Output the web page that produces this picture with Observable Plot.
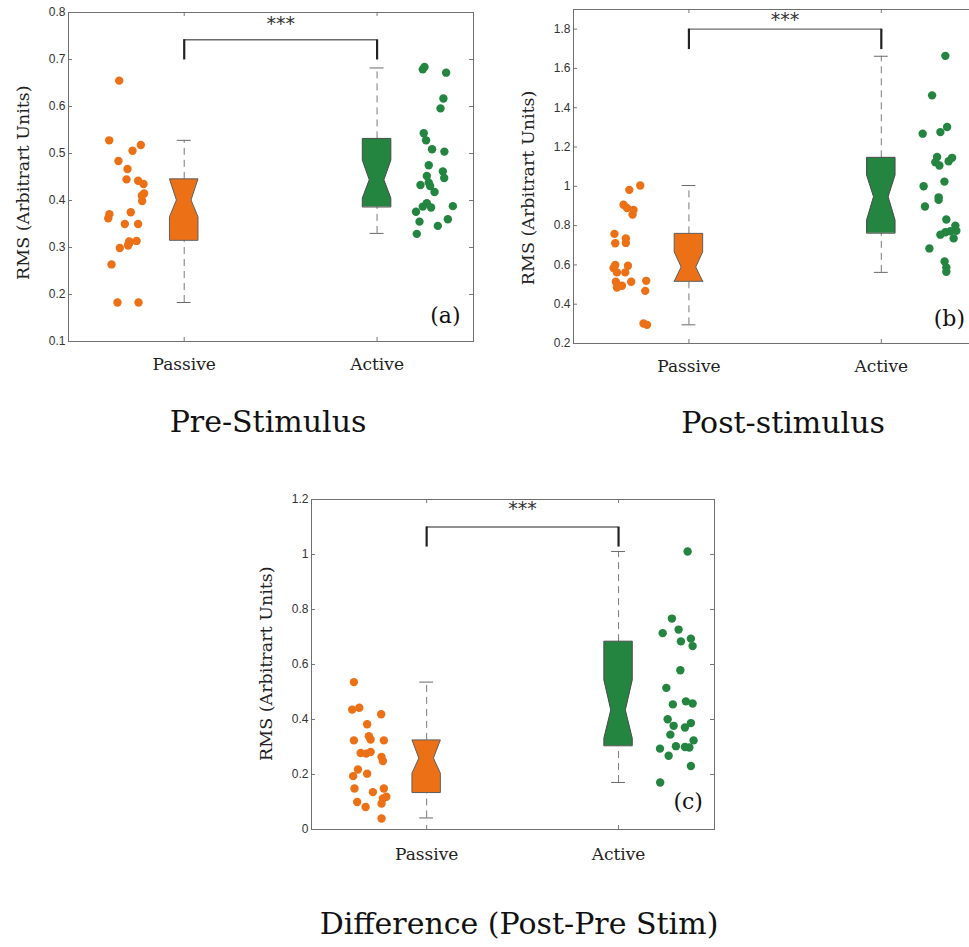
<!DOCTYPE html>
<html><head><meta charset="utf-8">
<script src="https://cdn.jsdelivr.net/npm/d3@7"></script>
<script src="https://cdn.jsdelivr.net/npm/@observablehq/plot@0.6"></script>
<style>
html,body{margin:0;padding:0;background:#fff;overflow:hidden;}
#wrap{position:relative;width:969px;height:947px;overflow:hidden;background:#fff;}
.panel{position:absolute;}
.title{position:absolute;font-family:"DejaVu Serif",serif;font-size:30px;line-height:30px;color:#111;white-space:nowrap;transform:translateX(-50%);}
</style></head><body><div id="wrap"></div>
<script>
const groups = ["Passive", "Active"];
const groupPos = [1, 2];
const xDomain = [0.4, 2.5];
const titles = ["Pre-Stimulus", "Post-stimulus", "Difference (Post-Pre Stim)"];
const panelLetters = ["(a)", "(b)", "(c)"];
const yAxisLabel = "RMS (Arbitrart Units)";

// ---- (a) Pre-Stimulus ----
const preTicks = [0.1, 0.2, 0.3, 0.4, 0.5, 0.6, 0.7, 0.8];
const preTickLabels = ["0.1", "0.2", "0.3", "0.4", "0.5", "0.6", "0.7", "0.8"];
const prePassiveRMS = [0.655,0.528,0.518,0.506,0.484,0.467,0.445,0.442,0.435,0.415,0.410,0.399,0.371,0.362,0.375,0.350,0.350,0.313,0.314,0.304,0.299,0.264,0.183,0.183,0.308,0.311];
const prePassiveJitter = [-0.337,-0.389,-0.225,-0.268,-0.341,-0.294,-0.299,-0.239,-0.211,-0.208,-0.220,-0.218,-0.388,-0.394,-0.277,-0.308,-0.239,-0.285,-0.247,-0.291,-0.334,-0.377,-0.346,-0.237,-0.289,-0.282];
const preActiveRMS = [0.679,0.684,0.672,0.617,0.596,0.543,0.528,0.509,0.504,0.475,0.462,0.448,0.452,0.438,0.433,0.431,0.418,0.394,0.387,0.385,0.388,0.376,0.360,0.355,0.346,0.329];
const preActiveJitter = [0.237,0.246,0.358,0.344,0.329,0.242,0.254,0.285,0.349,0.268,0.341,0.348,0.258,0.268,0.225,0.275,0.298,0.258,0.237,0.280,0.393,0.202,0.367,0.220,0.315,0.206];
// [whiskerLow, q1, notchLow, median, notchHigh, q3, whiskerHigh]
const preBoxPassive = [0.183, 0.315, 0.364, 0.400, 0.445, 0.445, 0.528];
const preBoxActive = [0.330, 0.386, 0.404, 0.443, 0.485, 0.531, 0.682];
const preSig = [0.742, 0.699, 0.775]; // bracket top, leg bottom, stars

// ---- (b) Post-stimulus ----
const postTicks = [0.2, 0.4, 0.6, 0.8, 1.0, 1.2, 1.4, 1.6, 1.8];
const postTickLabels = ["0.2", "0.4", "0.6", "0.8", "1", "1.2", "1.4", "1.6", "1.8"];
const postPassiveRMS = [1.004,0.982,0.906,0.890,0.880,0.856,0.758,0.710,0.735,0.712,0.584,0.600,0.562,0.596,0.562,0.514,0.494,0.494,0.485,0.514,0.519,0.468,0.302,0.295];
const postPassiveJitter = [-0.253,-0.310,-0.340,-0.322,-0.288,-0.293,-0.387,-0.383,-0.328,-0.328,-0.392,-0.383,-0.374,-0.317,-0.331,-0.380,-0.366,-0.348,-0.374,-0.300,-0.222,-0.227,-0.236,-0.218];
const postActiveRMS = [1.664,1.463,1.302,1.276,1.268,1.149,1.123,1.106,1.145,1.128,1.024,1.000,0.944,0.931,0.897,0.831,0.800,0.774,0.771,0.766,0.754,0.735,0.684,0.618,0.587,0.565];
const postActiveJitter = [0.333,0.264,0.342,0.307,0.215,0.290,0.281,0.302,0.368,0.350,0.328,0.220,0.298,0.298,0.227,0.338,0.385,0.390,0.359,0.333,0.307,0.376,0.250,0.329,0.338,0.338];
const postBoxPassive = [0.295, 0.514, 0.514, 0.587, 0.664, 0.758, 1.004];
const postBoxActive = [0.562, 0.761, 0.826, 0.945, 1.055, 1.145, 1.662];
const postSig = [1.800, 1.696, 1.849];

// ---- (c) Difference ----
const diffTicks = [0, 0.2, 0.4, 0.6, 0.8, 1.0, 1.2];
const diffTickLabels = ["0", "0.2", "0.4", "0.6", "0.8", "1", "1.2"];
const diffPassiveRMS = [0.536,0.436,0.443,0.419,0.383,0.339,0.327,0.324,0.324,0.278,0.276,0.282,0.264,0.249,0.218,0.203,0.194,0.149,0.149,0.136,0.119,0.113,0.100,0.094,0.082,0.040];
const diffPassiveJitter = [-0.379,-0.388,-0.351,-0.237,-0.310,-0.301,-0.292,-0.379,-0.223,-0.344,-0.315,-0.292,-0.235,-0.228,-0.358,-0.310,-0.383,-0.376,-0.223,-0.280,-0.210,-0.228,-0.362,-0.235,-0.318,-0.235];
const diffActiveRMS = [1.011,0.767,0.727,0.714,0.694,0.684,0.667,0.579,0.515,0.466,0.458,0.455,0.401,0.387,0.377,0.371,0.345,0.324,0.294,0.303,0.300,0.298,0.268,0.231,0.171];
const diffActiveJitter = [0.360,0.278,0.313,0.230,0.377,0.325,0.386,0.322,0.249,0.351,0.386,0.283,0.256,0.377,0.287,0.346,0.270,0.391,0.216,0.299,0.346,0.369,0.261,0.377,0.217];
const diffBoxPassive = [0.042, 0.134, 0.203, 0.258, 0.324, 0.324, 0.536];
const diffBoxActive = [0.171, 0.304, 0.330, 0.433, 0.542, 0.683, 1.011];
const diffSig = [1.100, 1.027, 1.166];

const passiveColor = "#EC7116";
const activeColor = "#23853F";
const serif = "DejaVu Serif, serif";
const sans = "Liberation Sans, Arial, sans-serif";

function makePanel(c) {
  const fw = c.width - c.mL - c.mR, fh = c.height - c.mT - c.mB;
  const tx = 4 * (xDomain[1] - xDomain[0]) / fw;
  const ty = 4 * (c.yDomain[1] - c.yDomain[0]) / fh;
  const bw = 0.074, nw = 0.038, cw = 0.036;
  const pts = (rms, jit, pos) => rms.map((v, i) => ({x: pos + jit[i], y: v}));
  const boxRows = (s, p) => [
    {y: s[1], x1: p - bw, x2: p + bw},
    {y: s[2], x1: p - bw, x2: p + bw},
    {y: s[3], x1: p - nw, x2: p + nw},
    {y: s[4], x1: p - bw, x2: p + bw},
    {y: s[5], x1: p - bw, x2: p + bw}
  ];
  const whisk = [c.boxP, c.boxA].flatMap((s, i) => [
    {x: groupPos[i], y1: s[0], y2: s[1]},
    {x: groupPos[i], y1: s[5], y2: s[6]}
  ]);
  const caps = [c.boxP, c.boxA].flatMap((s, i) => [
    {x1: groupPos[i] - cw, x2: groupPos[i] + cw, y: s[0]},
    {x1: groupPos[i] - cw, x2: groupPos[i] + cw, y: s[6]}
  ]);
  const tickCol = "#777";
  return Plot.plot({
    width: c.width, height: c.height,
    marginLeft: c.mL, marginRight: c.mR, marginTop: c.mT, marginBottom: c.mB,
    x: {domain: xDomain},
    y: {domain: c.yDomain},
    style: {background: "transparent", overflow: "visible"},
    marks: [
      Plot.ruleY(c.yTicks, {x1: xDomain[0], x2: xDomain[0] + tx, stroke: tickCol}),
      Plot.ruleY(c.yTicks, {x1: xDomain[1] - tx, x2: xDomain[1], stroke: tickCol}),
      Plot.ruleX(groupPos, {y1: c.yDomain[0], y2: c.yDomain[0] + ty, stroke: tickCol}),
      Plot.ruleX(groupPos, {y1: c.yDomain[1] - ty, y2: c.yDomain[1], stroke: tickCol}),
      Plot.ruleX(whisk, {x: "x", y1: "y1", y2: "y2", stroke: "#7a7a7a", strokeWidth: 1, strokeDasharray: "7,5"}),
      Plot.ruleY(caps, {x1: "x1", x2: "x2", y: "y", stroke: "#6a6a6a", strokeWidth: 1}),
      Plot.areaX(boxRows(c.boxP, groupPos[0]), {y: "y", x1: "x1", x2: "x2", fill: passiveColor, stroke: "#5e5e5e", strokeWidth: 1}),
      Plot.areaX(boxRows(c.boxA, groupPos[1]), {y: "y", x1: "x1", x2: "x2", fill: activeColor, stroke: "#4a4a4a", strokeWidth: 1}),
      Plot.dot(pts(c.pR, c.pJ, groupPos[0]), {x: "x", y: "y", r: 4.2, fill: passiveColor, stroke: "none"}),
      Plot.dot(pts(c.aR, c.aJ, groupPos[1]), {x: "x", y: "y", r: 4.2, fill: activeColor, stroke: "none"}),
      Plot.ruleY([c.sig[0]], {x1: groupPos[0], x2: groupPos[1], stroke: "#6a6a6a", strokeWidth: 1.3}),
      Plot.ruleX(groupPos, {y1: c.sig[1], y2: c.sig[0], stroke: "#222", strokeWidth: 2.2}),
      Plot.text(["***"], {x: (groupPos[0] + groupPos[1]) / 2, y: c.sig[2], text: d => d, fontFamily: "DejaVu Sans, sans-serif", fontSize: 19, fill: "#333"}),
      Plot.text([c.letter], {x: c.letterX, y: c.letterY, text: d => d, fontFamily: serif, fontSize: 22, fill: "#111"}),
      Plot.text([yAxisLabel], {frameAnchor: "left", y: c.yLabelAt, rotate: -90, dx: -45, textAnchor: "middle", lineAnchor: "middle", text: d => d, fontFamily: serif, fontSize: 17.5, fill: "#222"}),
      Plot.axisY({ticks: c.yTicks, tickFormat: d => c.yLabels[c.yTicks.indexOf(d)], tickSize: 0, tickPadding: 3, fontFamily: sans, fontSize: 12, fill: "#333", label: null}),
      Plot.axisX({ticks: groupPos, tickFormat: d => groups[groupPos.indexOf(d)], tickSize: 0, tickPadding: c.xPad, fontFamily: serif, fontSize: 17, fill: "#222", label: null}),
      Plot.frame({stroke: "#707070", strokeWidth: 1})
    ]
  });
}

const wrap = document.getElementById("wrap");
function place(node, left, top) {
  node.classList.add("panel");
  node.style.left = left + "px";
  node.style.top = top + "px";
  wrap.appendChild(node);
}

place(makePanel({width: 483, height: 380, mL: 68, mR: 10, mT: 12, mB: 39,
  yDomain: [0.1, 0.8], yTicks: preTicks, yLabels: preTickLabels,
  pR: prePassiveRMS, pJ: prePassiveJitter, aR: preActiveRMS, aJ: preActiveJitter,
  boxP: preBoxPassive, boxA: preBoxActive, sig: preSig,
  letter: panelLetters[0], letterX: 2.354, letterY: 0.155, yLabelAt: 0.438, xPad: 16}), 0, 0);

place(makePanel({width: 510, height: 380, mL: 93, mR: 13, mT: 9, mB: 37,
  yDomain: [0.2, 1.9], yTicks: postTicks, yLabels: postTickLabels,
  pR: postPassiveRMS, pJ: postPassiveJitter, aR: postActiveRMS, aJ: postActiveJitter,
  boxP: postBoxPassive, boxA: postBoxActive, sig: postSig,
  letter: panelLetters[1], letterX: 2.354, letterY: 0.325, yLabelAt: 0.992, xPad: 16}), 480, 0);

place(makePanel({width: 495, height: 380, mL: 81, mR: 11, mT: 19, mB: 31,
  yDomain: [0, 1.2], yTicks: diffTicks, yLabels: diffTickLabels,
  pR: diffPassiveRMS, pJ: diffPassiveJitter, aR: diffActiveRMS, aJ: diffActiveJitter,
  boxP: diffBoxPassive, boxA: diffBoxActive, sig: diffSig,
  letter: panelLetters[2], letterX: 2.363, letterY: 0.100, yLabelAt: 0.603, xPad: 18}), 230, 480);

const titlePos = [[268, 407], [783, 408], [519, 909]];
titles.forEach((t, i) => {
  const d = document.createElement("div");
  d.className = "title";
  d.textContent = t;
  d.style.left = titlePos[i][0] + "px";
  d.style.top = titlePos[i][1] + "px";
  wrap.appendChild(d);
});
</script></body></html>
